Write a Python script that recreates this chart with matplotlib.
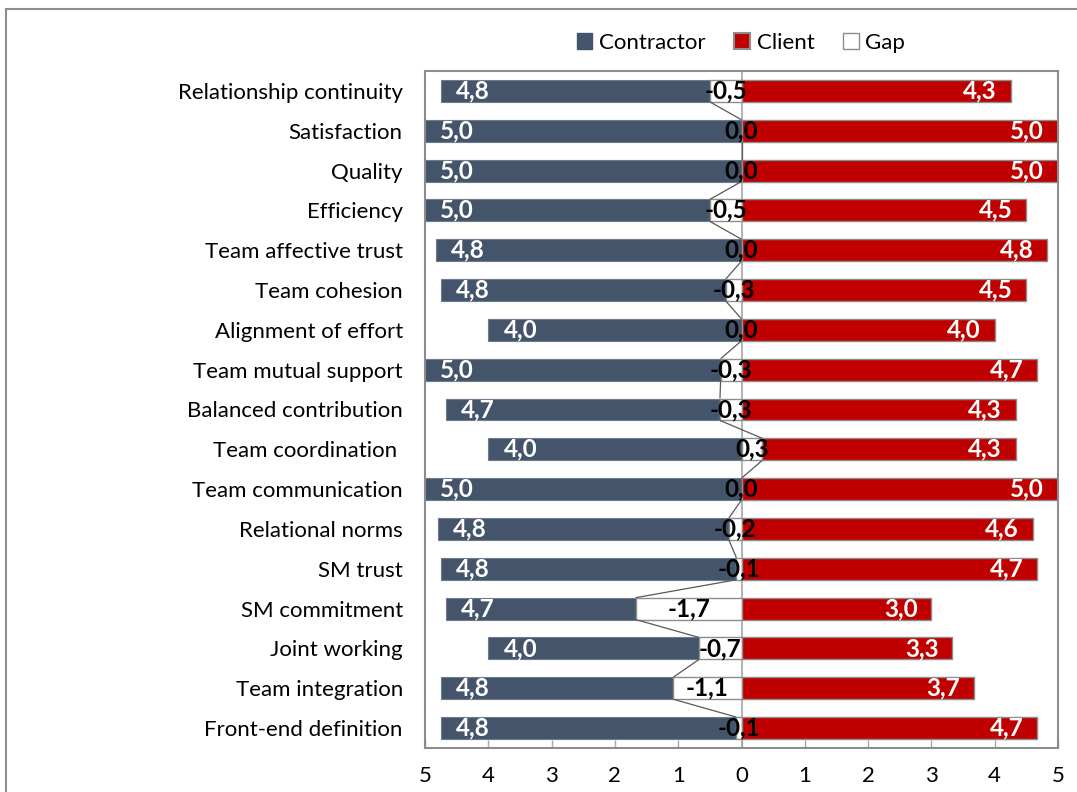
import matplotlib
matplotlib.use("Agg")
import matplotlib.pyplot as plt
from matplotlib.patches import Patch
from matplotlib.lines import Line2D
from decimal import Decimal, ROUND_HALF_UP

plt.rcParams["font.family"] = ["Lato", "DejaVu Sans"]

categories = [
    "Relationship continuity", "Satisfaction", "Quality", "Efficiency",
    "Team affective trust", "Team cohesion", "Alignment of effort",
    "Team mutual support", "Balanced contribution", "Team coordination ",
    "Team communication", "Relational norms", "SM trust", "SM commitment",
    "Joint working", "Team integration", "Front-end definition",
]
contractor = [4.75, 5.0, 5.0, 5.0, 4.83, 4.75, 4.0, 5.0, 4.67, 4.0,
              5.0, 4.8, 4.75, 4.67, 4.0, 4.75, 4.75]
client = [4.25, 5.0, 5.0, 4.5, 4.83, 4.5, 4.0, 4.67, 4.33, 4.33,
          5.0, 4.6, 4.67, 3.0, 3.33, 3.67, 4.67]
gap = [round(c - k, 2) for c, k in zip(client, contractor)]

xticks = [-5, -4, -3, -2, -1, 0, 1, 2, 3, 4, 5]

C_CONTRACTOR = "#44546A"
C_CLIENT = "#C00000"
C_EDGE = "#8C8C8C"
C_FRAME = "#8C8C8C"
FS = 16


def fmt(v):
    d = Decimal(str(v)).quantize(Decimal("0.1"), rounding=ROUND_HALF_UP)
    if d == 0:
        d = abs(d)
    return str(d).replace(".", ",")


fig = plt.figure(figsize=(10.77, 7.92), dpi=100)
ax = fig.add_axes([425 / 1077, 1 - 748 / 792, (1058 - 425) / 1077, (748 - 71) / 792])

y = list(range(len(categories)))
h = 0.55

gneg = [min(g, 0) for g in gap]
gpos = [max(g, 0) for g in gap]

ax.axvline(0, color="#A6A6A6", lw=1.2, zorder=1)

ax.barh(y, [-(k + n) for k, n in zip(contractor, gneg)], left=gneg, height=h,
        color=C_CONTRACTOR, edgecolor="#6E7B8F", linewidth=0.8, zorder=2)
ax.barh(y, gap, left=0, height=h, color="white", edgecolor=C_EDGE,
        linewidth=1.0, zorder=2)
ax.barh(y, [c - p for c, p in zip(client, gpos)], left=gpos, height=h,
        color=C_CLIENT, edgecolor=C_EDGE, linewidth=1.0, zorder=2)

# series lines joining the ends of the gap segments
for i in range(len(categories) - 1):
    ax.plot([gap[i], gap[i + 1]], [y[i] + h / 2, y[i + 1] - h / 2],
            color="#595959", lw=0.9, zorder=3, solid_capstyle="butt")

lab_kw = dict(fontsize=17.5, fontweight="bold", va="center", zorder=5)
for yi, k, c, g in zip(y, contractor, client, gap):
    ax.annotate(fmt(k), (-k, yi), xytext=(11, 0), textcoords="offset points",
                ha="left", color="white", **lab_kw)
    ax.annotate(fmt(c), (c, yi), xytext=(-10, 0), textcoords="offset points",
                ha="right", color="white", **lab_kw)
    ax.annotate(fmt(g), (g / 2, yi), xytext=(0, 0), textcoords="offset points",
                ha="center", color="black", **lab_kw)

ax.set_xlim(-5, 5)
ax.set_ylim(len(categories) - 0.5, -0.5)
ax.set_yticks(y)
ax.set_yticklabels(categories, fontsize=FS)
ax.tick_params(axis="y", length=0, pad=16)
ax.set_xticks(xticks)
ax.set_xticklabels([str(abs(t)) for t in xticks], fontsize=FS)
ax.tick_params(axis="x", direction="in", length=6, width=1, color="#A6A6A6",
               pad=13)
for s in ax.spines.values():
    s.set_color(C_FRAME)
    s.set_linewidth(1.5)

handles = [
    Patch(facecolor=C_CONTRACTOR, edgecolor=C_CONTRACTOR, label="Contractor"),
    Patch(facecolor=C_CLIENT, edgecolor=C_EDGE, linewidth=1.5, label="Client"),
    Patch(facecolor="white", edgecolor=C_EDGE, linewidth=1.0, label="Gap"),
]
fig.legend(handles=handles, loc="center", bbox_to_anchor=(741 / 1077, 1 - 43 / 792),
           ncol=3, frameon=False, fontsize=FS, handlelength=0.7,
           handleheight=0.7, handletextpad=0.3, columnspacing=1.3)

# chart-area border (top and left edges)
fig.add_artist(Line2D([6 / 1077, 1], [1 - 9 / 792, 1 - 9 / 792],
                      transform=fig.transFigure, color=C_FRAME, lw=1.5))
fig.add_artist(Line2D([6 / 1077, 6 / 1077], [0, 1 - 9 / 792],
                      transform=fig.transFigure, color=C_FRAME, lw=1.5))

fig.savefig("out.png", dpi=100)
